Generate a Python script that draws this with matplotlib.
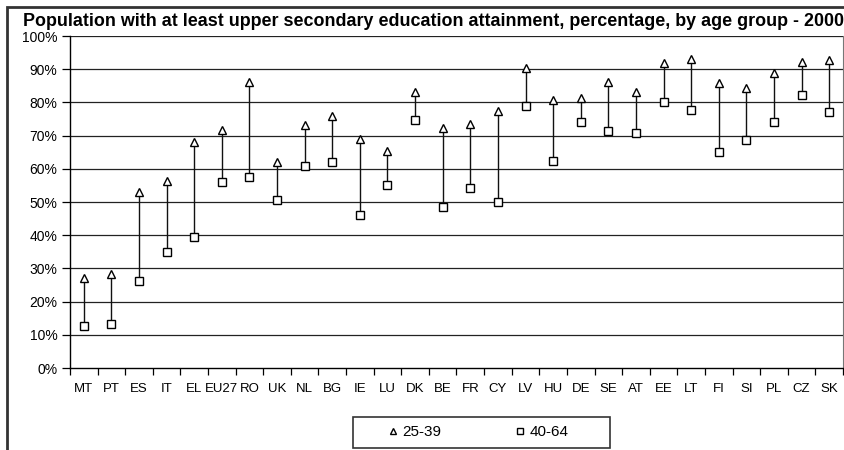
import matplotlib
matplotlib.use("Agg")
import matplotlib.pyplot as plt
from matplotlib.patches import Rectangle
from matplotlib.ticker import FixedLocator, PercentFormatter

plt.rcParams["font.family"] = ["Liberation Sans", "DejaVu Sans"]

countries = ["MT", "PT", "ES", "IT", "EL", "EU27", "RO", "UK", "NL", "BG", "IE", "LU", "DK",
             "BE", "FR", "CY", "LV", "HU", "DE", "SE", "AT", "EE", "LT", "FI", "SI", "PL", "CZ", "SK"]
age_25_39 = [27.2, 28.3, 53.0, 56.3, 68.1, 71.7, 86.0, 61.9, 73.1, 76.0, 68.9, 65.5, 83.0,
             72.4, 73.5, 77.5, 90.4, 80.7, 81.4, 86.1, 83.2, 92.0, 93.1, 85.7, 84.4, 88.9, 92.3, 92.8]
age_40_64 = [12.6, 13.4, 26.3, 34.8, 39.6, 56.1, 57.5, 50.7, 60.8, 61.9, 46.0, 55.0, 74.8,
             48.6, 54.3, 50.1, 78.9, 62.5, 74.2, 71.3, 70.9, 80.2, 77.7, 65.1, 68.8, 74.2, 82.3, 77.2]
y_ticks = list(range(0, 101, 10))

W, H = 845, 450
fig = plt.figure(figsize=(W / 100, H / 100), dpi=100)

# outer chart frame (right and bottom edges run off the canvas)
fig.patches.append(Rectangle((7 / W, -0.1), 1.2, 1 - 7 / H + 0.1, transform=fig.transFigure,
                             fill=False, edgecolor="#333333", linewidth=2))

ax = fig.add_axes([70 / W, (H - 368) / H, 773 / W, 332 / H])
x = list(range(len(countries)))

for yv in y_ticks[1:]:
    ax.axhline(yv, color="#222222", linewidth=0.9, zorder=1)

ax.vlines(x, age_40_64, age_25_39, color="#111111", linewidth=1.0, zorder=2)
ax.plot(x, age_25_39, linestyle="none", marker="^", markersize=6, markerfacecolor="white",
        markeredgecolor="black", markeredgewidth=1.0, label="25-39", zorder=3)
ax.plot(x, age_40_64, linestyle="none", marker="s", markersize=5.3, markerfacecolor="white",
        markeredgecolor="black", markeredgewidth=1.0, label="40-64", zorder=3)

ax.set_xlim(-0.5, len(countries) - 0.5)
ax.set_ylim(0, 100)
ax.set_yticks(y_ticks)
ax.yaxis.set_major_formatter(PercentFormatter(decimals=0))
ax.set_xticks(x)
ax.set_xticklabels(countries)
ax.xaxis.set_minor_locator(FixedLocator([i - 0.5 for i in range(len(countries) + 1)]))
ax.tick_params(axis="x", which="major", length=0, pad=11, labelsize=9.5)
ax.tick_params(axis="x", which="minor", length=5, direction="out", width=0.9)
ax.tick_params(axis="y", length=6, direction="out", width=0.9, labelsize=10, pad=3)

for side in ["left", "bottom"]:
    ax.spines[side].set_color("black")
    ax.spines[side].set_linewidth(1.0)
ax.spines["top"].set_visible(False)
ax.spines["right"].set_color("#777777")

fig.text(23 / W, 1 - 22 / H,
         "Population with at least upper secondary education attainment, percentage, by age group - 2000",
         fontsize=12.9, fontweight="bold", va="center", ha="left")

# legend box
fig.patches.append(Rectangle((353 / W, 1 - 448 / H), 257 / W, 31 / H, transform=fig.transFigure,
                             fill=False, edgecolor="#333333", linewidth=1.2))
fig.legend(loc="center", bbox_to_anchor=(478 / W, 1 - 432 / H), ncol=2, frameon=False,
           fontsize=11, markerscale=0.8, handlelength=0.7, handletextpad=0.25, columnspacing=4.85)

fig.savefig("out.png", dpi=100)
